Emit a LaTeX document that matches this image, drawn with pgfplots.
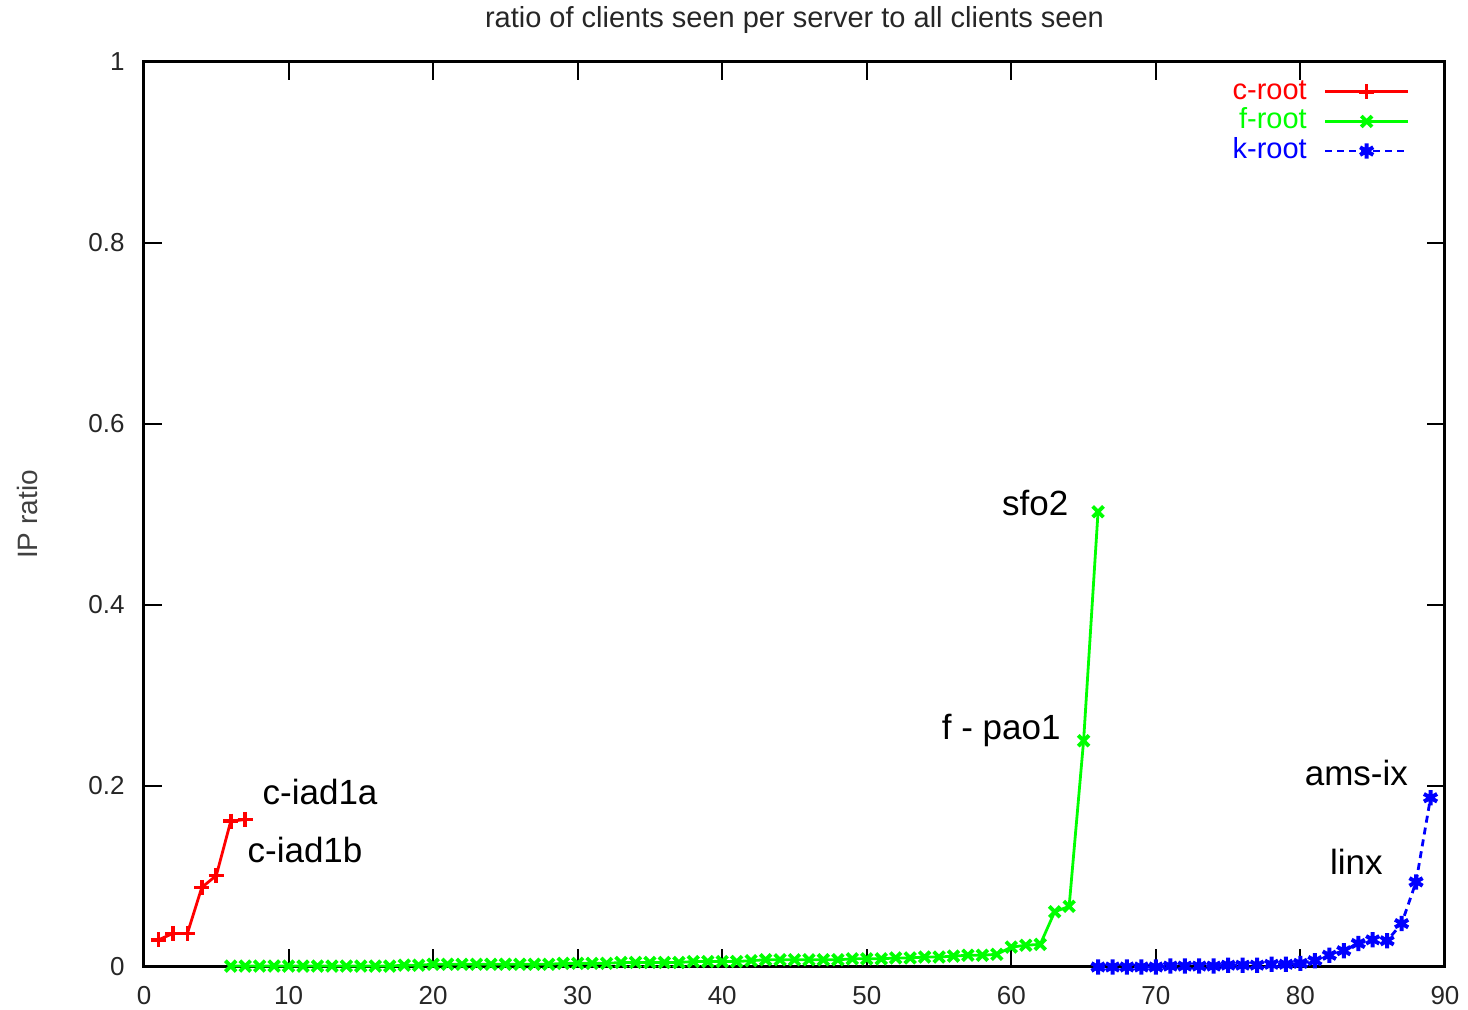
\documentclass[border=0pt]{standalone}
\usepackage{pgfplots}
\pgfplotsset{compat=1.18}
\usepackage{fontspec}
\setmainfont{Liberation Sans}
\definecolor{gred}{RGB}{255,0,0}
\definecolor{ggreen}{RGB}{0,255,0}
\definecolor{gblue}{RGB}{0,0,255}
\begin{document}
\begin{tikzpicture}
\useasboundingbox (-72pt,-21.5pt) rectangle (662pt,483.5pt);
\begin{axis}[
  scale only axis,
  width=650.5pt, height=452.5pt,
  xmin=0, xmax=90, ymin=0, ymax=1,
  xtick={0,10,...,90},
  ytick={0,0.2,0.4,0.6,0.8,1},
  yticklabels={0,0.2,0.4,0.6,0.8,1},
  xtick pos=both, ytick pos=both,
  tick align=inside,
  major tick length=9pt,
  tick style={line width=1pt, black},
  axis line style={line width=1.5pt, black},
  /pgf/number format/assume math mode=true,
  tick label style={font=\fontsize{13}{15}\selectfont, text=black!85, inner sep=0pt},
  yticklabel style={xshift=-9.5pt},
  xticklabel style={yshift=-9.5pt},
  clip=false,
  title={ratio of clients seen per server to all clients seen},
  every axis title/.style={font=\fontsize{14.5}{17}\selectfont, text=black!85, at={(axis description cs:0.5,1)}, anchor=center, yshift=21pt, inner sep=0pt},
  ylabel={IP ratio},
  every axis y label/.style={at={(axis description cs:0,0.5)}, xshift=-58.5pt, rotate=90, anchor=center, inner sep=0pt, font=\fontsize{14}{17}\selectfont, text=black!75},
  legend style={draw=none, fill=none, at={(1,1)}, anchor=north east, xshift=-17.5pt, yshift=-8pt,
    inner sep=0pt, font=\fontsize{14.5}{17}\selectfont,
    nodes={inner sep=0pt, text height=10.5pt, text depth=3pt},
    row sep=1.3pt, column sep=8.5pt},
  legend cell align=right,
  legend plot pos=right,
  legend image code/.code={\draw[mark repeat=2, mark phase=2] plot coordinates {(0pt,0pt) (20.75pt,0pt) (41.5pt,0pt)};},
  every axis plot/.append style={line width=1.4pt, mark size=3.8pt},
]
\addplot[color=gred, mark=+, mark options={line width=1.8pt}] coordinates {
(1,0.030) (2,0.037) (3,0.037) (4,0.088) (5,0.101) (6,0.161) (7,0.163)
};
\addlegendentry{\textcolor{gred}{c-root}}
\addplot[color=ggreen, mark=x, mark options={line width=1.9pt}] coordinates {
(6,0.001) (7,0.001) (8,0.001) (9,0.001) (10,0.001) (11,0.001) (12,0.001) (13,0.001) (14,0.001) (15,0.001)
(16,0.001) (17,0.001) (18,0.002) (19,0.002) (20,0.003) (21,0.003) (22,0.003) (23,0.003) (24,0.003) (25,0.003)
(26,0.003) (27,0.003) (28,0.003) (29,0.004) (30,0.004) (31,0.004) (32,0.004) (33,0.005) (34,0.005) (35,0.005)
(36,0.005) (37,0.005) (38,0.006) (39,0.006) (40,0.006) (41,0.006) (42,0.007) (43,0.008) (44,0.008) (45,0.008)
(46,0.008) (47,0.008) (48,0.008) (49,0.009) (50,0.009) (51,0.009) (52,0.010) (53,0.010) (54,0.011) (55,0.011)
(56,0.012) (57,0.013) (58,0.013) (59,0.014) (60,0.022) (61,0.024) (62,0.025) (63,0.061) (64,0.067) (65,0.250)
(66,0.503)
};
\addlegendentry{\textcolor{ggreen}{f-root}}
\addplot[color=gblue, mark=asterisk, dash pattern=on 3.5pt off 2.5pt, mark options={solid, line width=2pt}] coordinates {
(66,0.000) (67,0.000) (68,0.000) (69,0.000) (70,0.000) (71,0.001) (72,0.001) (73,0.001) (74,0.001) (75,0.002)
(76,0.002) (77,0.002) (78,0.003) (79,0.003) (80,0.004) (81,0.007) (82,0.013) (83,0.018) (84,0.026) (85,0.030)
(86,0.029) (87,0.048) (88,0.094) (89,0.187)
};
\addlegendentry{\textcolor{gblue}{k-root}}
\begin{scope}[every node/.style={font=\fontsize{17.5}{20}\selectfont, anchor=base, inner sep=0pt}]
\node at (axis cs:12.18,0.179) {c-iad1a};
\node at (axis cs:11.14,0.116) {c-iad1b};
\node at (axis cs:61.66,0.4994) {sfo2};
\node at (axis cs:59.3,0.251) {f - pao1};
\node at (axis cs:83.87,0.201) {ams-ix};
\node at (axis cs:83.87,0.1017) {linx};
\end{scope}
\end{axis}
\end{tikzpicture}
\end{document}
